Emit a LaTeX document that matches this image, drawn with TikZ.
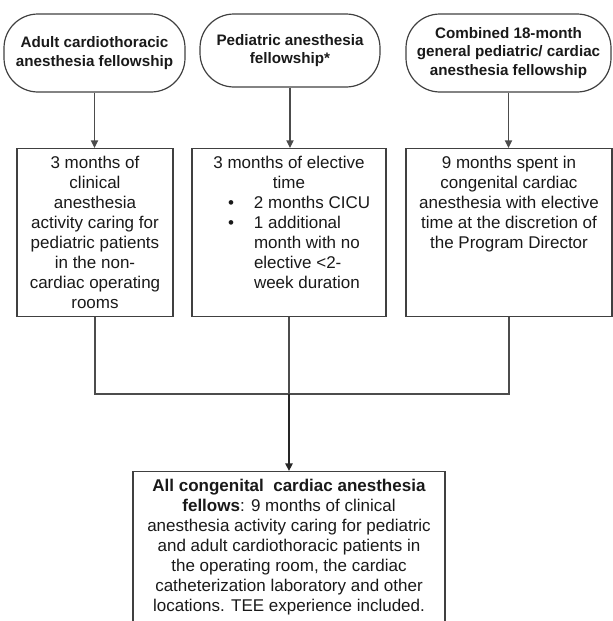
\documentclass[tikz,border=0pt]{standalone}
\usepackage{fontspec}
\setmainfont{Liberation Sans}
\usetikzlibrary{arrows.meta}

\newcommand{\stagebody}[3]{\parbox[c][#2][t]{#1}{\centering\vspace*{4pt}#3}}

\begin{document}
\begin{tikzpicture}[x=0.5pt,y=-0.5pt,
        track/.style={draw=black!75,line width=0.6pt,rounded corners=17pt,inner sep=0pt,align=center,text=black!90,font=\fontsize{7.6}{9.3}\selectfont\bfseries},
        stage/.style={draw=black!75,line width=0.6pt,inner sep=0pt,anchor=north,text=black!90,font=\fontsize{8.5}{10}\selectfont},
        link/.style={draw=black!70,line width=0.6pt},
        tip/.style={-{Triangle[length=3.8pt,width=3.6pt]}}]
        \useasboundingbox (0,0) rectangle (613,621);

        % Fellowship tracks
        \node[track,minimum width=90.5pt,minimum height=39pt] (adult) at (94.5,53) {Adult cardiothoracic\\anesthesia fellowship};
        \node[track,minimum width=90pt,minimum height=36.5pt] (ped) at (290,50.5) {Pediatric anesthesia\\fellowship*};
        \node[track,minimum width=102.5pt,minimum height=39pt] (comb) at (508.5,53) {Combined 18-month\\general pediatric/ cardiac\\anesthesia fellowship};

        % Track specific time
        \node[stage] (stageA) at (95,148) {\stagebody{78pt}{84pt}{3 months of\\clinical\\anesthesia\\activity caring for\\pediatric patients\\in the non-\\cardiac operating\\rooms}};
        \node[stage] (stageB) at (289,148) {\stagebody{97pt}{84pt}{3 months of elective\\time\par
                \raggedright\leftskip=31pt
                \leavevmode\llap{\textbullet\hspace{10pt}}2 months CICU\par
                \leavevmode\llap{\textbullet\hspace{10pt}}1 additional\\month with no\\elective <2-\\week duration}};
        \node[stage] (stageC) at (509,148) {\stagebody{103pt}{84pt}{9 months spent in\\congenital cardiac\\anesthesia with elective\\time at the discretion of\\the Program Director}};

        % Common part
        \node[stage] (all) at (289,471) {\stagebody{156pt}{80pt}{\textbf{All congenital\ \ cardiac anesthesia}\\\textbf{fellows}: 9 months of clinical\\anesthesia activity caring for pediatric\\and adult cardiothoracic patients in\\the operating room, the cardiac\\catheterization laboratory and other\\locations. TEE experience included.}};

        % Arrows
        \draw[link,tip] (adult.south) -- (adult.south |- stageA.north);
        \draw[link,tip] (ped.south) -- (ped.south |- stageB.north);
        \draw[link,tip] (comb.south) -- (comb.south |- stageC.north);

        \coordinate (hub) at (289,394);
        \draw[link] (stageA.south) |- (hub) -| (stageC.south);
        \draw[link] (stageB.south) -- (hub);
        \draw[link,tip,draw=black!85,line width=0.9pt] (hub) -- (all.north);
\end{tikzpicture}
\end{document}
